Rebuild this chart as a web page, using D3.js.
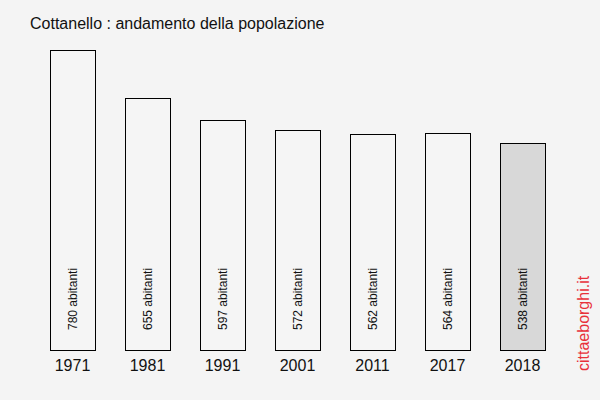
<!DOCTYPE html>
<html>
<head>
<meta charset="utf-8">
<script src="https://cdn.jsdelivr.net/npm/d3@7"></script>
<style>
  html, body { margin: 0; padding: 0; background: #f4f4f4; }
  svg { display: block; }
</style>
</head>
<body>
<div id="chart"></div>
<script>
// data
const years = ["1971", "1981", "1991", "2001", "2011", "2017", "2018"];
const residents = [780, 655, 597, 572, 562, 564, 538];
const title = "Cottanello : andamento della popolazione";
const unitLabel = "abitanti";
const credit = "cittaeborghi.it";

const width = 600,
  height = 400,
  fontFamily = "'Liberation Sans', Arial, sans-serif";

const data = years.map((y, i) => ({ year: y, n: residents[i] }));

// scales
const xScale = d3
  .scaleBand()
  .domain(years)
  .range([35, 560])
  .paddingInner(0.4)
  .paddingOuter(0.2);

const yScale = d3
  .scaleLinear()
  .domain([0, d3.max(residents)])
  .range([350, 50]);

const svg = d3
  .select("#chart")
  .append("svg")
  .attr("width", width)
  .attr("height", height)
  .attr("viewBox", [0, 0, width, height]);

svg
  .append("rect")
  .attr("width", width)
  .attr("height", height)
  .attr("fill", "#f4f4f4");

// title
svg
  .append("text")
  .attr("x", 30)
  .attr("y", 29)
  .attr("font-family", fontFamily)
  .attr("font-size", 16)
  .attr("fill", "#111")
  .text(title);

// bars
svg
  .append("g")
  .selectAll("rect")
  .data(data)
  .join("rect")
  .attr("x", (d) => xScale(d.year) + 0.5)
  .attr("y", (d) => Math.round(yScale(d.n)) + 0.5)
  .attr("width", xScale.bandwidth())
  .attr("height", (d) => yScale(0) - Math.round(yScale(d.n)))
  .attr("fill", (d, i) => (i === data.length - 1 ? "#d8d8d8" : "#f5f5f5"))
  .attr("stroke", "#000")
  .attr("stroke-width", 1);

// labels inside bars
svg
  .append("g")
  .selectAll("text")
  .data(data)
  .join("text")
  .attr(
    "transform",
    (d) => `translate(${xScale(d.year) + xScale.bandwidth() / 2 + 4},330) rotate(-90)`
  )
  .attr("font-family", fontFamily)
  .attr("font-size", 12)
  .attr("fill", "#111")
  .text((d) => `${d.n} ${unitLabel}`);

// x axis
const xAxis = d3.axisBottom(xScale).tickSize(0).tickPadding(0);
svg
  .append("g")
  .attr("transform", `translate(0,0)`)
  .call(xAxis)
  .call((g) => g.select(".domain").remove())
  .call((g) =>
    g
      .selectAll(".tick text")
      .attr("y", 371)
      .attr("dy", null)
      .attr("font-family", fontFamily)
      .attr("font-size", 16)
      .attr("fill", "#111")
  );

// credit
svg
  .append("text")
  .attr("transform", "translate(589,371) rotate(-90)")
  .attr("font-family", fontFamily)
  .attr("font-size", 16)
  .attr("fill", "#e8303a")
  .text(credit);
</script>
</body>
</html>
